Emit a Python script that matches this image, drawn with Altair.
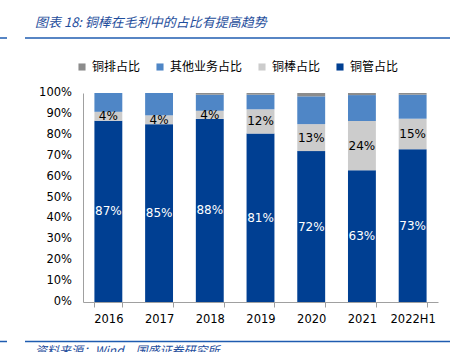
import altair as alt
import pandas as pd

years = ["2016", "2017", "2018", "2019", "2020", "2021", "2022H1"]
tube = [86.7, 85.1, 87.6, 80.6, 72.2, 63.0, 73.1]      # 铜管占比
rod = [4.3, 4.2, 3.9, 11.6, 12.9, 23.6, 14.6]          # 铜棒占比
other = [9.0, 10.7, 7.7, 7.0, 13.3, 12.4, 11.5]        # 其他业务占比
busbar = [0.0, 0.0, 0.8, 0.8, 1.6, 1.0, 0.8]           # 铜排占比
y_ticks = [0, 10, 20, 30, 40, 50, 60, 70, 80, 90, 100]

series = ["铜排占比", "其他业务占比", "铜棒占比", "铜管占比"]
colors = ["#8C8C8C", "#4F86C6", "#CCCCCC", "#003F92"]
stack_rank = {"铜管占比": 0, "铜棒占比": 1, "其他业务占比": 2, "铜排占比": 3}

rows = []
for i, y in enumerate(years):
    for name, vals in [("铜管占比", tube), ("铜棒占比", rod), ("其他业务占比", other), ("铜排占比", busbar)]:
        rows.append({"year": y, "series": name, "value": vals[i], "rank": stack_rank[name]})
df = pd.DataFrame(rows)
tick_df = pd.DataFrame({"tick": y_ticks})

title_text = "图表 18:  铜棒在毛利中的占比有提高趋势"
source_text = "资料来源：Wind，国盛证券研究所"

W, H = 355, 209
FONT = "DejaVu Sans"
CJK = "Noto Sans CJK SC"

base = alt.Chart(df).transform_stack(
    stack="value", groupby=["year"], as_=["y0", "y1"],
    sort=[alt.SortField("rank", order="ascending")]
).transform_calculate(
    mid="(datum.y0 + datum.y1) / 2",
    label="format(datum.value, '.0f') + '%'"
)

def y_axis():
    return alt.Axis(labels=False, ticks=False, grid=False, domainColor="#A0A0A0")

def y_scale():
    return alt.Scale(domain=[0, 100], nice=False, zero=True)

def x_enc():
    return alt.X("year:N", sort=years, title=None,
                 scale=alt.Scale(paddingInner=0.45, paddingOuter=0.225),
                 axis=alt.Axis(labelAngle=0, labelFont=FONT, labelFontSize=11.5, labelColor="#000000",
                               domainColor="#A0A0A0", tickColor="#A0A0A0", tickBand="extent",
                               tickSize=5, labelPadding=6))

bars = base.mark_bar().encode(
    x=x_enc(),
    y=alt.Y("y0:Q", title=None, scale=y_scale(), axis=y_axis()),
    y2="y1:Q",
    color=alt.Color("series:N", scale=alt.Scale(domain=series, range=colors),
                    legend=alt.Legend(title=None, orient="none", direction="horizontal",
                                      legendX=-7, legendY=-32, symbolType="square",
                                      symbolSize=50, symbolStrokeWidth=0, labelFont=CJK,
                                      labelFontSize=12, labelColor="#000000", columnPadding=13,
                                      labelOffset=4)),
)

tube_labels = base.transform_filter("datum.series == '铜管占比'").mark_text(
    color="white", font=FONT, fontSize=12
).encode(x=x_enc(), y=alt.Y("mid:Q", title=None, scale=y_scale(), axis=y_axis()), text="label:N")

rod_labels = base.transform_filter("datum.series == '铜棒占比'").mark_text(
    color="black", font=FONT, fontSize=12
).encode(x=x_enc(), y=alt.Y("mid:Q", title=None, scale=y_scale(), axis=y_axis()), text="label:N")

tick_labels = alt.Chart(tick_df).transform_calculate(
    lbl="datum.tick + '%'"
).mark_text(align="right", baseline="middle", font=FONT, fontSize=11.5, color="#000000").encode(
    x=alt.value(-11), y=alt.Y("tick:Q", title=None, scale=y_scale(), axis=y_axis()), text="lbl:N")

deco_df = pd.DataFrame({"t": [title_text]})
title_mark = alt.Chart(deco_df).mark_text(
    align="left", baseline="alphabetic", font=CJK, fontSize=13, fontStyle="italic", color="#1F4E9C"
).encode(x=alt.value(-48), y=alt.value(-66), text="t:N")

src_df = pd.DataFrame({"t": [source_text]})
source_mark = alt.Chart(src_df).mark_text(
    align="left", baseline="alphabetic", font=CJK, fontSize=12, fontStyle="italic", color="#1F4E9C"
).encode(x=alt.value(-48), y=alt.value(262), text="t:N")

line_df = pd.DataFrame({"k": [0]})
rules = []
for yv in [-55, 248.5]:
    rules.append(alt.Chart(line_df).mark_rule(color="#1F5CB0", strokeWidth=1.5).encode(
        x=alt.value(-58), x2=alt.value(367), y=alt.value(yv)))
    rules.append(alt.Chart(line_df).mark_rule(color="#1F5CB0", strokeWidth=1.5).encode(
        x=alt.value(-83), x2=alt.value(-76), y=alt.value(yv)))

chart = alt.layer(bars, tube_labels, rod_labels, tick_labels, title_mark, source_mark, *rules).properties(
    width=W, height=H,
    autosize=alt.AutoSizeParams(type="none"),
    padding={"left": 83, "top": 93, "right": 12, "bottom": 50},
    background="white",
).configure_view(stroke=None)

chart.save("out.html", embed_options={"renderer": "svg", "actions": False})
